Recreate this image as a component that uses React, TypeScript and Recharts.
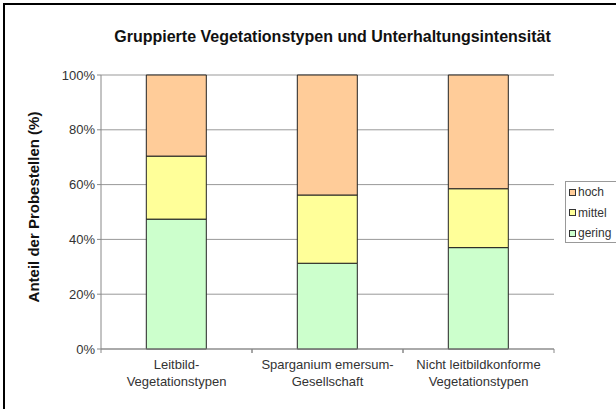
import { BarChart, Bar, XAxis, YAxis, CartesianGrid } from 'recharts';

const categories = [
  'Leitbild-\nVegetationstypen',
  'Sparganium emersum-\nGesellschaft',
  'Nicht leitbildkonforme\nVegetationstypen',
];
const gering = [47.4, 31.3, 37.0];
const mittel = [23.0, 24.9, 21.5];
const hoch = [29.6, 43.8, 41.5];
const yTicks = [0, 20, 40, 60, 80, 100];

const SERIES = [
  { key: 'gering', color: '#CCFFCC' },
  { key: 'mittel', color: '#FFFF99' },
  { key: 'hoch', color: '#FFCC99' },
];

const FONT = '"Liberation Sans", Arial, sans-serif';
const BAND = (554 - 101) / categories.length;

const data = categories.map((name, i) => ({
  name,
  gering: gering[i],
  mittel: mittel[i],
  hoch: hoch[i],
}));

function CategoryTick({ x, y, payload }: any) {
  const lines = String(payload.value).split('\n');
  return (
    <g>
      <line x1={x - BAND / 2} x2={x - BAND / 2} y1={y - 8} y2={y - 4} stroke="#888" />
      <line x1={x + BAND / 2} x2={x + BAND / 2} y1={y - 8} y2={y - 4} stroke="#888" />
      <text x={x} y={y + 12} textAnchor="middle" fontSize={13} fill="#333" fontFamily={FONT}>
        {lines.map((l, i) => (
          <tspan key={i} x={x} dy={i === 0 ? 0 : 17}>
            {l}
          </tspan>
        ))}
      </text>
    </g>
  );
}

function LegendBox() {
  const items = [...SERIES].reverse();
  return (
    <div
      style={{
        position: 'absolute',
        left: 565,
        top: 181,
        width: 60,
        height: 62,
        boxSizing: 'border-box',
        border: '1px solid #999',
        background: '#fff',
        padding: '0 0 0 3px',
        fontFamily: FONT,
        fontSize: 12,
        color: '#333',
      }}
    >
      {items.map((s) => (
        <div key={s.key} style={{ display: 'flex', alignItems: 'center', height: 20.5 }}>
          <span
            style={{
              display: 'inline-block',
              width: 5,
              height: 5,
              border: '1px solid #333',
              background: s.color,
              marginRight: 2,
            }}
          />
          {s.key}
        </div>
      ))}
    </div>
  );
}

export default function App() {
  return (
    <div style={{ position: 'absolute', left: 0, top: 0, width: 616, height: 409, overflow: 'hidden', background: '#fff' }}>
      <div
        style={{
          position: 'absolute',
          left: 3,
          top: 3,
          width: 700,
          height: 500,
          border: '2px solid #000',
        }}
      />
      <div
        style={{
          position: 'absolute',
          left: 0,
          top: 28,
          width: 665,
          textAlign: 'center',
          fontFamily: FONT,
          fontWeight: 'bold',
          fontSize: 16,
          color: '#111',
        }}
      >
        Gruppierte Vegetationstypen und Unterhaltungsintensität
      </div>
      <div
        style={{
          position: 'absolute',
          left: 33,
          top: 207,
          transform: 'translate(-50%, -50%) rotate(-90deg)',
          whiteSpace: 'nowrap',
          fontFamily: FONT,
          fontWeight: 'bold',
          fontSize: 15,
          color: '#111',
        }}
      >
        Anteil der Probestellen (%)
      </div>
      <div style={{ position: 'absolute', left: 0, top: 0 }}>
        <BarChart
          width={616}
          height={409}
          data={data}
          margin={{ top: 75, right: 62, bottom: 30, left: 56 }}
          barCategoryGap="30%"
        >
          <CartesianGrid vertical={false} stroke="#999" />
          <XAxis
            dataKey="name"
            height={30}
            axisLine={{ stroke: '#888' }}
            tickLine={false}
            tick={<CategoryTick />}
            interval={0}
          />
          <YAxis
            domain={[0, 100]}
            ticks={yTicks}
            width={45}
            tickFormatter={(v) => `${v}%`}
            axisLine={{ stroke: '#888' }}
            tickLine={{ stroke: '#888' }}
            tickSize={4}
            tickMargin={2}
            tick={{ fontSize: 13, fill: '#333', fontFamily: FONT }}
          />
          <YAxis
            yAxisId="right"
            orientation="right"
            domain={[0, 100]}
            width={0}
            tick={false}
            tickLine={false}
            axisLine={{ stroke: '#888' }}
          />
          {SERIES.map((s) => (
            <Bar
              key={s.key}
              dataKey={s.key}
              stackId="a"
              fill={s.color}
              stroke="#222"
              strokeWidth={1}
              isAnimationActive={false}
            />
          ))}
        </BarChart>
      </div>
      <LegendBox />
    </div>
  );
}
